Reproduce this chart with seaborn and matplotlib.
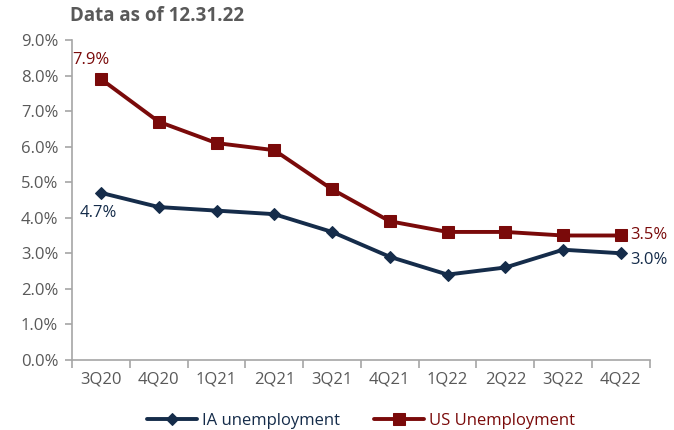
import matplotlib
matplotlib.use("Agg")
import matplotlib.pyplot as plt
import seaborn as sns
import pandas as pd
import numpy as np

quarters = ["3Q20", "4Q20", "1Q21", "2Q21", "3Q21", "4Q21", "1Q22", "2Q22", "3Q22", "4Q22"]
ia_unemployment = [4.7, 4.3, 4.2, 4.1, 3.6, 2.9, 2.4, 2.6, 3.1, 3.0]
us_unemployment = [7.9, 6.7, 6.1, 5.9, 4.8, 3.9, 3.6, 3.6, 3.5, 3.5]
y_ticks = [0, 1, 2, 3, 4, 5, 6, 7, 8, 9]

sns.set_theme(style="white")
plt.rcParams['font.family'] = ['Open Sans', 'DejaVu Sans']

IA_COLOR = "#152C4A"
US_COLOR = "#7A0A0A"
GREY = "#A6A6A6"
TXT = "#595959"

df = pd.DataFrame({"q": quarters, "ia": ia_unemployment, "us": us_unemployment})
df["x"] = np.arange(len(quarters))

fig = plt.figure(figsize=(6.74, 4.30), dpi=100)
ax = fig.add_axes([0.107, 0.163, 0.857, 0.744])

sns.lineplot(data=df, x="x", y="ia", ax=ax, color=IA_COLOR, linewidth=2.8,
             marker="D", markersize=6.5, markeredgecolor=IA_COLOR, label="IA unemployment")
sns.lineplot(data=df, x="x", y="us", ax=ax, color=US_COLOR, linewidth=2.8,
             marker="s", markersize=8, markeredgecolor=US_COLOR, label="US Unemployment")

ax.set_xlim(-0.5, len(quarters) - 0.5)
ax.set_ylim(0, 9)
ax.set_yticks(y_ticks)
ax.set_yticklabels([f"{v:.1f}%" for v in y_ticks], fontsize=12, color=TXT)
ax.set_xticks(df["x"])
ax.set_xticklabels(quarters, fontsize=12, color=TXT)
ax.set_xticks(np.arange(-0.5, len(quarters)), minor=True)
ax.tick_params(axis="x", which="major", length=0, pad=8)
ax.tick_params(axis="x", which="minor", length=6, color=GREY, width=1.2, direction="out")
ax.tick_params(axis="y", length=5, color=GREY, width=1.2, direction="out", pad=5)
ax.tick_params(bottom=True, left=True, which="both")
ax.set_xlabel("")
ax.set_ylabel("")

for side in ["top", "right"]:
    ax.spines[side].set_visible(False)
for side in ["left", "bottom"]:
    ax.spines[side].set_color(GREY)
    ax.spines[side].set_linewidth(1.2)

# data labels
ax.annotate(f"{us_unemployment[0]:.1f}%", (0, us_unemployment[0]), xytext=(-7, 8),
            textcoords="offset points", ha="center", va="bottom", color=US_COLOR, fontsize=12)
ax.annotate(f"{ia_unemployment[0]:.1f}%", (0, ia_unemployment[0]), xytext=(-2, -9),
            textcoords="offset points", ha="center", va="top", color=IA_COLOR, fontsize=12)
ax.annotate(f"{us_unemployment[-1]:.1f}%", (9, us_unemployment[-1]), xytext=(7, 0),
            textcoords="offset points", ha="left", va="center", color=US_COLOR, fontsize=12)
ax.annotate(f"{ia_unemployment[-1]:.1f}%", (9, ia_unemployment[-1]), xytext=(7, -5),
            textcoords="offset points", ha="left", va="center", color=IA_COLOR, fontsize=12)

fig.text(0.104, 0.962, "Data as of 12.31.22", fontsize=13.5, fontweight="bold", color=TXT,
         ha="left", va="center")

leg = ax.legend(loc="center", bbox_to_anchor=(0.5, -0.19), ncol=2, frameon=False,
                fontsize=12, handlelength=3.0, columnspacing=2.0, handletextpad=0.3)
for txt, col in zip(leg.get_texts(), [IA_COLOR, US_COLOR]):
    txt.set_color(col)

fig.savefig("out.png", dpi=100)
